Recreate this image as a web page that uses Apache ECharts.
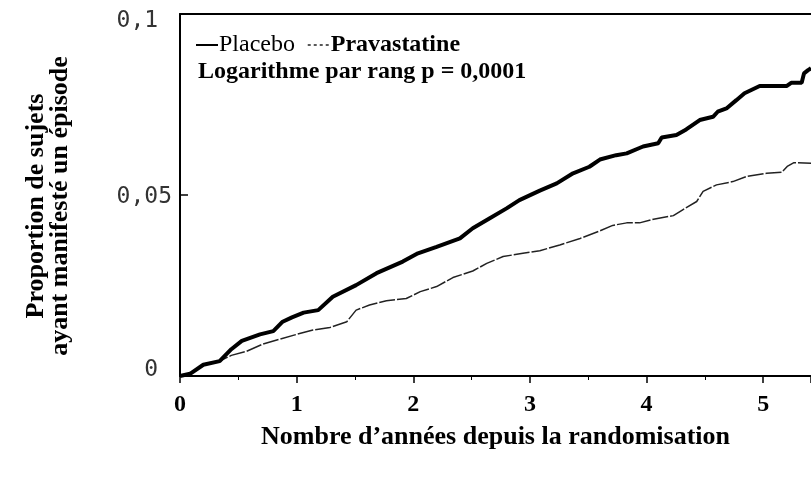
<!DOCTYPE html>
<html><head><meta charset="utf-8">
<script src="https://cdn.jsdelivr.net/npm/echarts@6/dist/echarts.min.js"></script>
<style>html,body{margin:0;padding:0;background:#fff}#c{width:811px;height:478px}</style>
</head><body><div id="c"></div>
<script>
const seriesNames = ['Placebo', 'Pravastatine'];
const xTicks = [0, 1, 2, 3, 4, 5];
const yTickLabels = {0: '0 ', 0.05: '0,05', 0.1: '0,1 '};
const xTitle = 'Nombre d\u2019années depuis la randomisation';
const yTitle = 'Proportion de sujets\nayant manifesté un épisode';
const statText = 'Logarithme par rang p = 0,0001';

const placebo = [[0,0],[0.086,0.0006],[0.2,0.0031],[0.34,0.0041],[0.44,0.0074],[0.53,0.0097],[0.686,0.0115],[0.8,0.0124],[0.88,0.015],[0.96,0.0162],[1.06,0.0175],[1.185,0.0182],[1.31,0.0219],[1.51,0.0251],[1.685,0.0284],[1.91,0.0316],[2.04,0.0339],[2.2,0.0357],[2.4,0.038],[2.51,0.0408],[2.656,0.0436],[2.8,0.0463],[2.91,0.0486],[3.085,0.0512],[3.23,0.0532],[3.37,0.056],[3.51,0.0578],[3.6,0.0598],[3.74,0.061],[3.83,0.0615],[3.97,0.0634],[4.1,0.0643],[4.13,0.0659],[4.256,0.0666],[4.34,0.0681],[4.456,0.0707],[4.57,0.0716],[4.61,0.073],[4.685,0.0739],[4.77,0.0762],[4.84,0.0781],[4.97,0.0801],[5.2,0.0801],[5.24,0.081],[5.33,0.081],[5.35,0.0836],[5.385,0.0845],[5.41,0.085]];
const pravastatine = [[0,0],[0.086,0.0006],[0.2,0.0031],[0.34,0.0041],[0.44,0.0057],[0.57,0.0068],[0.71,0.0088],[0.857,0.0102],[1.0,0.0115],[1.14,0.0127],[1.285,0.0134],[1.43,0.015],[1.51,0.0182],[1.625,0.0196],[1.77,0.0208],[1.94,0.0214],[2.06,0.0233],[2.2,0.0247],[2.34,0.0272],[2.51,0.029],[2.63,0.0311],[2.77,0.033],[2.94,0.0339],[3.085,0.0346],[3.256,0.0362],[3.43,0.038],[3.6,0.0401],[3.71,0.0416],[3.83,0.0423],[3.94,0.0423],[4.06,0.0433],[4.23,0.0443],[4.31,0.0459],[4.43,0.0482],[4.485,0.051],[4.6,0.0528],[4.74,0.0537],[4.856,0.0551],[5.03,0.056],[5.16,0.0563],[5.21,0.058],[5.26,0.0589],[5.41,0.0588]];

const serif = '"Liberation Serif", "Times New Roman", serif';
const mono = '"DejaVu Sans Mono", "Liberation Mono", monospace';
const chart = echarts.init(document.getElementById('c'), null, {renderer: 'canvas'});
chart.setOption({
  animation: false,
  backgroundColor: '#fff',
  grid: {left: 180, top: 14, right: 0, bottom: 102, containLabel: false},
  title: {
    text: statText, left: 193, top: 55,
    textStyle: {fontFamily: serif, fontWeight: 'bold', fontSize: 24, color: '#000'}
  },
  legend: {
    data: [
      {name: seriesNames[0]},
      {name: seriesNames[1], lineStyle: {type: [3, 3], width: 1.5}}
    ],
    left: 190, top: 28, itemWidth: 22, itemHeight: 14, itemGap: 12,
    itemStyle: {color: 'rgba(0,0,0,0)', borderWidth: 0, opacity: 0},
    formatter: function (n) { return n === 'Placebo' ? '{r|' + n + '}' : '{b|' + n + '}'; },
    textStyle: {
      fontFamily: serif, fontSize: 24, color: '#000', padding: [0, 0, 0, -4],
      rich: {
        r: {fontFamily: serif, fontSize: 24, fontWeight: 'normal', color: '#000'},
        b: {fontFamily: serif, fontSize: 24, fontWeight: 'bold', color: '#000'}
      }
    }
  },
  xAxis: [{
    type: 'value', min: 0, max: 5.41, interval: 1,
    name: xTitle, nameLocation: 'middle', nameGap: 48,
    nameTextStyle: {fontFamily: serif, fontWeight: 'bold', fontSize: 26, color: '#000'},
    axisLine: {show: true, lineStyle: {color: '#000', width: 2}},
    axisTick: {show: true, length: 7, lineStyle: {color: '#000', width: 1.5}},
    minorTick: {show: true, splitNumber: 2, length: 4, lineStyle: {color: '#000', width: 1}},
    splitLine: {show: false},
    axisLabel: {
      margin: 17, showMaxLabel: false,
      fontFamily: serif, fontWeight: 'bold', fontSize: 24, color: '#000',
      formatter: function (v) { return xTicks.indexOf(v) >= 0 ? String(v) : ''; }
    }
  }, {
    type: 'value', position: 'top', min: 0, max: 5.41,
    axisLine: {show: true, onZero: false, lineStyle: {color: '#000', width: 2}},
    axisTick: {show: false}, axisLabel: {show: false}, splitLine: {show: false}
  }],
  yAxis: {
    type: 'value', min: 0, max: 0.1, interval: 0.05,
    name: yTitle, nameLocation: 'middle', nameRotate: 90, nameGap: 108,
    nameTextStyle: {fontFamily: serif, fontWeight: 'bold', fontSize: 26, lineHeight: 24, color: '#000', padding: [0, 22, 0, 0]},
    axisLine: {show: true, lineStyle: {color: '#000', width: 2}},
    axisTick: {show: true, inside: true, length: 8, lineStyle: {color: '#000', width: 1.5}},
    splitLine: {show: false},
    axisLabel: {
      margin: 8,
      fontFamily: mono, fontSize: 23, color: '#333',
      formatter: function (v) {
        const key = Math.round(v * 100) / 100;
        const s = yTickLabels[key] !== undefined ? yTickLabels[key] : '';
        if (key === 0) return '{lo|' + s + '}';
        if (key === 0.1) return '{hi|' + s + '}';
        return '{m|' + s + '}';
      },
      rich: {
        lo: {fontFamily: mono, fontSize: 23, color: '#333', padding: [0, 0, 12, 0]},
        hi: {fontFamily: mono, fontSize: 23, color: '#333', padding: [14, 0, 0, 0]},
        m: {fontFamily: mono, fontSize: 23, color: '#333', padding: [4, 0, 0, 0]}
      }
    }
  },
  series: [{
    name: seriesNames[0], type: 'line', data: placebo, symbol: 'none',
    lineStyle: {color: '#000', width: 4}, itemStyle: {color: '#000'}, z: 3
  }, {
    name: seriesNames[1], type: 'line', data: pravastatine, symbol: 'none',
    lineStyle: {color: '#222', width: 1.5, type: [16, 2]}, itemStyle: {color: '#222'}, z: 2
  }]
});
</script></body></html>
